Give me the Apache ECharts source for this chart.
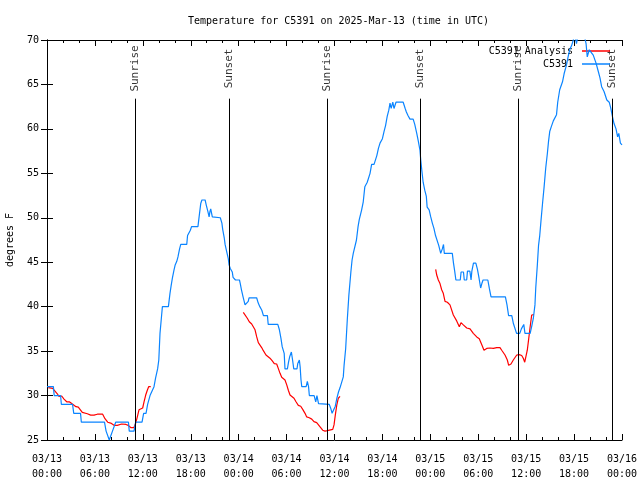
<!DOCTYPE html>
<html>
<head>
<meta charset="utf-8">
<script src="https://cdn.jsdelivr.net/npm/echarts@6/dist/echarts.min.js"></script>
<style>html,body{margin:0;padding:0;background:#fff}#c{width:640px;height:480px}</style>
</head>
<body>
<div id="c"></div>
<script>
// hours since 03/13 00:00 UTC
var xTickLabels = ['03/13\n00:00','03/13\n06:00','03/13\n12:00','03/13\n18:00','03/14\n00:00','03/14\n06:00','03/14\n12:00','03/14\n18:00','03/15\n00:00','03/15\n06:00','03/15\n12:00','03/15\n18:00','03/16\n00:00'];
var sunEventHours = [11.02, 22.79, 35.06, 46.71, 58.98, 70.75];
var sunEventNames = ['Sunrise','Sunset','Sunrise','Sunset','Sunrise','Sunset'];

var observed = [[0.0,31],[0.8,31],[0.9,30],[1.7,30],[1.8,29],[3.2,29],[3.35,28],[4.2,28],[4.3,27],[7.2,27],[7.4,26],[7.8,25],[8.0,25.5],[8.2,26],[8.6,27],[10.2,27],[10.3,26],[10.9,26],[11.1,27],[11.9,27],[12.1,28],[12.4,28],[12.6,29],[12.9,30],[13.1,30],[13.4,31],[13.6,32],[13.85,33],[14.0,34],[14.15,37],[14.35,39],[14.45,40],[15.2,40],[15.4,41.5],[15.55,42.4],[15.7,43.2],[15.9,44.1],[16.05,44.7],[16.25,45.1],[16.4,45.6],[16.6,46.5],[16.75,47],[17.5,47],[17.6,48],[17.8,48],[17.95,48.6],[18.1,49],[18.9,49],[19.1,50.5],[19.25,51.6],[19.4,52],[19.8,52],[19.95,51.4],[20.15,50.7],[20.3,50.1],[20.4,50.7],[20.5,51],[20.7,50.1],[20.8,50],[21.7,50],[21.9,49.4],[22.0,48.7],[22.2,47.7],[22.3,47],[22.5,46.2],[22.7,45.4],[22.8,44.7],[22.95,44.3],[23.2,43.9],[23.3,43.3],[23.6,43],[24.1,43],[24.2,42.6],[24.35,41.9],[24.55,41.1],[24.8,40.2],[24.9,40],[25.2,40.6],[25.3,41],[26.25,41],[26.45,40.4],[26.65,40],[26.9,39.6],[27.1,39],[27.6,39],[27.7,38],[28.9,38],[29.1,37.4],[29.3,36.4],[29.45,35.5],[29.7,34.75],[29.8,33],[30.1,33],[30.25,33.8],[30.4,34.4],[30.6,34.9],[30.75,34],[30.9,33],[31.3,33],[31.4,33.6],[31.6,34],[31.7,33.2],[31.8,31.8],[31.9,31],[32.45,31],[32.6,31.6],[32.75,31],[32.85,30],[33.45,30],[33.65,29.3],[33.8,30],[34.0,29.1],[34.2,29],[35.35,29],[35.55,28.5],[35.7,28],[35.95,28],[36.1,28.8],[36.3,29.7],[36.5,30.4],[36.7,30.9],[36.9,31],[37.1,32.1],[37.2,33.4],[37.4,35.3],[37.6,38.5],[37.8,41.3],[38.05,43.9],[38.2,45.25],[38.35,46],[38.6,46],[38.75,47.5],[38.95,49],[39.1,49.8],[39.4,50.9],[39.6,51.8],[39.8,53.5],[40.1,54],[40.2,54.1],[40.45,55],[40.65,56],[40.95,56],[41.3,57],[41.5,57.8],[41.7,58.4],[42.0,58.9],[42.2,59.7],[42.4,60.4],[42.6,61.4],[42.8,62.1],[42.95,62.9],[43.1,62.3],[43.3,63],[43.45,62.3],[43.7,63],[44.6,63],[44.85,62.3],[45.0,61.9],[45.2,61.5],[45.45,61.1],[45.85,61.1],[46.05,60.5],[46.3,59.5],[46.5,58.6],[46.7,57.6],[46.8,56.5],[46.95,55.2],[47.1,54],[47.3,53.1],[47.5,52.4],[47.6,51.2],[47.85,50.9],[48.05,50.1],[48.25,49.4],[48.45,48.8],[48.65,48],[48.85,47.9],[49.05,46.9],[49.3,46],[49.5,46.5],[49.65,47],[49.75,46],[50.75,46],[50.9,44.9],[51.05,44],[51.2,43],[51.75,43],[51.85,43.9],[52.15,43.9],[52.25,43],[52.55,43],[52.65,44],[52.95,44],[53.1,43],[53.2,44],[53.4,44.9],[53.7,44.9],[53.9,44.2],[54.1,43.2],[54.3,42.1],[54.45,42.6],[54.6,43],[55.2,43],[55.4,42],[55.6,41.1],[57.4,41.1],[57.6,40.2],[57.8,39],[58.2,39],[58.4,38.1],[58.6,38],[58.8,37],[59.2,37],[59.4,37.5],[59.7,38],[59.85,37],[60.5,37],[60.7,37.8],[60.9,38.7],[61.1,40.2],[61.2,42.1],[61.4,44.7],[61.55,46.9],[61.7,48],[61.85,49.6],[62.05,51.6],[62.25,53.5],[62.45,55.6],[62.65,57.2],[62.8,58.6],[62.95,59.7],[63.15,60.25],[63.4,60.9],[63.6,61.1],[63.8,61.6],[63.95,63],[64.2,64.4],[64.55,65.3],[64.75,66.2],[65.05,67.2],[65.25,68.1],[65.45,68.9],[65.7,69.4],[65.9,70],[66.1,70.6],[66.3,69.6],[66.5,70.6],[66.9,70.8],[67.3,70.4],[67.5,69.6],[67.65,68.1],[67.9,68.9],[68.1,69.1],[68.4,68.3],[68.75,67.4],[69.05,66.4],[69.25,65.7],[69.45,64.75],[69.75,64.2],[70.1,63.25],[70.4,63],[70.6,62.3],[70.8,61.4],[71.0,60.6],[71.25,60],[71.45,59.1],[71.6,59.5],[71.8,58.4],[72,58.2]];

var analysisDay1 = [[0.16,30.9],[0.71,30.8],[1.0,30.5],[1.29,30.2],[1.5,29.9],[1.84,29.95],[2.13,29.6],[2.47,29.3],[2.79,29.3],[3.09,29.1],[3.29,28.9],[3.63,28.75],[3.92,28.7],[4.13,28.45],[4.42,28.1],[4.67,28.0],[5.05,27.95],[5.47,27.8],[5.89,27.8],[6.3,27.9],[6.97,27.9],[7.26,27.4],[7.6,27.0],[7.98,26.9],[8.39,26.65],[8.8,26.65],[9.35,26.8],[9.89,26.75],[10.18,26.65],[10.48,26.4],[10.89,26.4],[11.11,26.9],[11.31,27.6],[11.52,28.4],[11.77,28.6],[11.98,28.6],[12.15,29.3],[12.36,30.06],[12.56,30.6],[12.73,31.0],[12.99,31.0]];
var analysisDay2 = [[24.58,39.36],[24.8,39.3],[25.08,38.7],[25.33,38.3],[25.63,38.05],[25.8,38.0],[26.05,37.4],[26.26,36.6],[26.46,35.95],[26.67,35.9],[26.88,35.4],[27.09,35.05],[27.42,34.56],[27.64,34.5],[27.92,34.2],[28.21,33.9],[28.46,33.6],[28.76,33.55],[28.96,33.06],[29.18,32.5],[29.39,32.05],[29.59,31.95],[29.8,31.75],[30.02,31.2],[30.22,30.6],[30.43,30.06],[30.64,29.9],[30.93,29.7],[31.18,29.3],[31.47,28.9],[31.77,28.8],[32.02,28.45],[32.31,28.0],[32.52,27.6],[32.84,27.5],[33.15,27.35],[33.43,27.06],[33.77,26.95],[33.97,26.8],[34.27,26.4],[34.52,26.1],[34.81,26.0],[35.1,26.05],[35.35,26.2],[35.78,26.2],[35.94,26.7],[36.1,27.8],[36.28,28.9],[36.48,29.7],[36.69,29.9]];
var analysisDay3 = [[48.67,44.2],[48.8,43.56],[49.0,43.0],[49.21,42.6],[49.42,41.9],[49.62,41.5],[49.84,40.6],[50.13,40.5],[50.46,40.2],[50.68,40.1],[50.88,39.06],[51.09,38.9],[51.3,38.4],[51.63,37.75],[51.84,38.2],[52.13,37.95],[52.56,37.6],[52.97,37.5],[53.38,37.0],[53.81,36.6],[54.13,36.4],[54.43,35.75],[54.72,35.1],[55.06,35.3],[55.47,35.35],[55.89,35.3],[56.31,35.4],[56.72,35.4],[56.94,35.1],[57.35,34.56],[57.64,34.0],[57.81,33.4],[58.1,33.55],[58.39,34.0],[58.82,34.56],[59.14,34.6],[59.44,34.5],[59.64,34.2],[59.82,33.75],[59.98,33.9],[60.14,35.1],[60.32,36.4],[60.48,37.6],[60.69,39.06],[60.98,39.1]];

var FONT = 'DejaVu Sans Mono';
var RED = '#ff0000', BLUE = '#0a84ff';
var sunLabelTemp = 66.8, sunLineTop = 63.4;

var chart = echarts.init(document.getElementById('c'), null, {renderer: 'canvas'});
function mkAnalysis(d) {
  return {name: 'C5391 Analysis', type: 'line', data: d, symbol: 'none', showSymbol: false,
    lineStyle: {color: RED, width: 1.2}, itemStyle: {color: RED}, z: 3, animation: false};
}
var option = {
  animation: false,
  backgroundColor: '#fff',
  textStyle: {fontFamily: FONT},
  title: {text: 'Temperature for C5391 on 2025-Mar-13 (time in UTC)', left: 183, top: 11,
    textStyle: {fontFamily: FONT, fontSize: 10, fontWeight: 'normal', color: '#000'}},
  legend: [
    {data: ['C5391 Analysis'], right: 30, top: 46, align: 'right', icon: 'rect', itemWidth: 28, itemHeight: 1.5,
      itemGap: 0, padding: 0, textStyle: {fontFamily: FONT, fontSize: 10, color: '#000', padding: [0, 4, 0, 0]}},
    {data: ['C5391'], right: 30, top: 59, align: 'right', icon: 'rect', itemWidth: 28, itemHeight: 1.5,
      itemGap: 0, padding: 0, textStyle: {fontFamily: FONT, fontSize: 10, color: '#000', padding: [0, 4, 0, 0]}}
  ],
  grid: {left: 47, right: 18, top: 40, bottom: 40, containLabel: false, outerBoundsMode: 'none'},
  xAxis: [
    {type: 'value', min: 0, max: 72, interval: 6, position: 'bottom',
      axisLine: {show: true, lineStyle: {color: '#000', width: 1}},
      axisTick: {show: true, inside: true, length: 6, lineStyle: {color: '#000'}},
      minorTick: {show: true, splitNumber: 3, length: 3, lineStyle: {color: '#000'}},
      splitLine: {show: false}, minorSplitLine: {show: false},
      axisLabel: {margin: 12, lineHeight: 15, fontFamily: FONT, fontSize: 10, color: '#000',
        formatter: function (v) { return xTickLabels[Math.round(v / 6)]; }}},
    {type: 'value', min: 0, max: 72, interval: 6, position: 'top',
      axisLine: {show: true, lineStyle: {color: '#000', width: 1}},
      axisTick: {show: true, inside: true, length: 6, lineStyle: {color: '#000'}},
      minorTick: {show: true, splitNumber: 3, length: 3, lineStyle: {color: '#000'}},
      splitLine: {show: false}, axisLabel: {show: false}}
  ],
  yAxis: [
    {type: 'value', min: 25, max: 70, interval: 5, position: 'left', name: 'degrees F',
      nameLocation: 'middle', nameGap: 32, nameRotate: 90,
      nameTextStyle: {fontFamily: FONT, fontSize: 10, color: '#000'},
      axisLine: {show: true, lineStyle: {color: '#000', width: 1}},
      axisTick: {show: true, inside: true, length: 6, lineStyle: {color: '#000'}},
      splitLine: {show: false},
      axisLabel: {margin: 8, fontFamily: FONT, fontSize: 10, color: '#000'}},
    {type: 'value', min: 25, max: 70, interval: 5, position: 'right',
      axisLine: {show: true, lineStyle: {color: '#000', width: 1}},
      axisTick: {show: true, inside: true, length: 6, lineStyle: {color: '#000'}},
      splitLine: {show: false}, axisLabel: {show: false}}
  ],
  series: [
    mkAnalysis(analysisDay1),
    mkAnalysis(analysisDay2),
    mkAnalysis(analysisDay3),
    {name: 'C5391', type: 'line', data: observed, symbol: 'none', showSymbol: false,
      lineStyle: {color: BLUE, width: 1.2}, itemStyle: {color: BLUE}, z: 4},
    {name: 'sun', type: 'scatter', symbolSize: 0, z: 2,
      data: sunEventHours.map(function (h, i) { return {value: [h, sunLabelTemp], name: sunEventNames[i]}; }),
      label: {show: true, position: 'inside', rotate: 90, formatter: '{b}',
        fontFamily: FONT, fontSize: 11, color: '#000'},
      markLine: {silent: true, symbol: 'none', animation: false,
        label: {show: false}, lineStyle: {color: '#000', width: 1, type: 'solid'},
        data: sunEventHours.map(function (h) { return [{coord: [h, 25]}, {coord: [h, sunLineTop]}]; })}}
  ]
};
chart.setOption(option);
</script>
</body>
</html>
